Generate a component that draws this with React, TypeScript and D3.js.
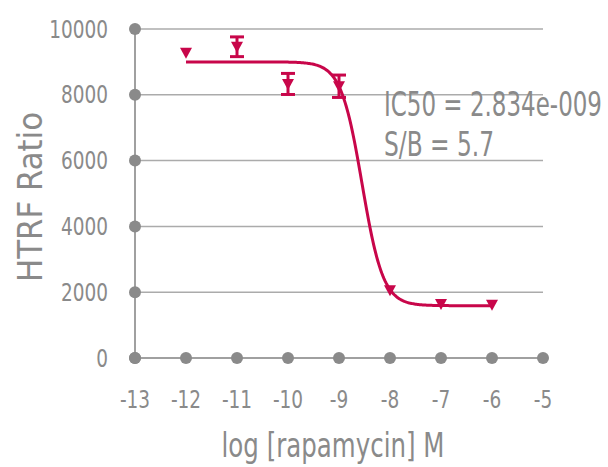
import React, { useEffect, useRef } from 'react'
import * as d3 from 'd3'

// measured points (log M), mean HTRF ratio and error
const logConc = [-12, -11, -10, -9, -8, -7, -6]
const ratio = [9280, 9460, 8330, 8260, 2060, 1640, 1620]
const ratioErr = [0, 300, 320, 340, 0, 0, 0]

// 4PL fit parameters
const fitTop = 9000
const fitBottom = 1590
const fitLogIC50 = Math.log10(2.834e-9)
const fitHill = 2.1

const xTicks = [-13, -12, -11, -10, -9, -8, -7, -6, -5]
const yTicks = [0, 2000, 4000, 6000, 8000, 10000]

const xTitle = 'log [rapamycin] M'
const yTitle = 'HTRF Ratio'
const annotations = ['IC50 = 2.834e-009', 'S/B = 5.7']

const FONT = "'DejaVu Sans', sans-serif"
const GREY = '#8a8a8a'
const RED = '#c8064a'
const SQUEEZE = 0.77 // the original uses a condensed face

function App () {
  const ref = useRef<SVGSVGElement>(null)

  useEffect(() => {
    const width = 608
    const height = 467
    const margin = { top: 29, right: 65, bottom: 109, left: 135 }
    const w = width - margin.left - margin.right
    const h = height - margin.top - margin.bottom

    const root = d3.select(ref.current)
    root.selectAll('*').remove()
    const svg = root.append('g')
      .attr('transform', 'translate(' + margin.left + ',' + margin.top + ')')

    const x = d3.scaleLinear().domain([-13, -5]).range([0, w])
    const y = d3.scaleLinear().domain([0, 10000]).range([h, 0])

    // gridlines
    svg.append('g')
      .selectAll('line')
      .data(yTicks.filter(d => d > 0))
      .enter()
      .append('line')
      .attr('x1', 0)
      .attr('x2', w)
      .attr('y1', d => y(d))
      .attr('y2', d => y(d))
      .attr('stroke', '#ababab')
      .attr('stroke-width', 1.5)

    // axis lines
    svg.append('line')
      .attr('x1', 0).attr('x2', 0)
      .attr('y1', 0).attr('y2', h)
      .attr('stroke', '#a0a0a0').attr('stroke-width', 2)
    svg.append('line')
      .attr('x1', 0).attr('x2', w)
      .attr('y1', h).attr('y2', h)
      .attr('stroke', '#a0a0a0').attr('stroke-width', 2)

    // tick dots
    svg.append('g')
      .selectAll('circle')
      .data(yTicks)
      .enter()
      .append('circle')
      .attr('cx', 0)
      .attr('cy', d => y(d))
      .attr('r', 6)
      .attr('fill', GREY)
    svg.append('g')
      .selectAll('circle')
      .data(xTicks)
      .enter()
      .append('circle')
      .attr('cx', d => x(d))
      .attr('cy', h)
      .attr('r', 6)
      .attr('fill', GREY)

    // tick labels
    svg.append('g')
      .selectAll('text')
      .data(yTicks)
      .enter()
      .append('text')
      .attr('transform', d => 'translate(-27,' + y(d) + ') scale(' + SQUEEZE + ',1)')
      .attr('dy', '0.36em')
      .attr('text-anchor', 'end')
      .attr('font-family', FONT)
      .attr('font-size', 24)
      .attr('fill', GREY)
      .text(d => String(d))
    svg.append('g')
      .selectAll('text')
      .data(xTicks)
      .enter()
      .append('text')
      .attr('transform', d => 'translate(' + x(d) + ',' + (h + 50) + ') scale(' + SQUEEZE + ',1)')
      .attr('text-anchor', 'middle')
      .attr('font-family', FONT)
      .attr('font-size', 24)
      .attr('fill', GREY)
      .text(d => String(d))

    // axis titles
    svg.append('text')
      .attr('x', 333 - margin.left)
      .attr('y', h + 99)
      .attr('text-anchor', 'middle')
      .attr('font-family', FONT)
      .attr('font-size', 33)
      .attr('textLength', 223)
      .attr('lengthAdjust', 'spacingAndGlyphs')
      .attr('fill', GREY)
      .text(xTitle)
    svg.append('g')
      .attr('transform', 'translate(' + (42 - margin.left) + ',' + (197 - margin.top) + ')')
      .append('text')
      .attr('text-anchor', 'middle')
      .attr('transform', 'rotate(-90)')
      .attr('font-family', FONT)
      .attr('font-size', 34)
      .attr('textLength', 170)
      .attr('lengthAdjust', 'spacingAndGlyphs')
      .attr('fill', GREY)
      .text(yTitle)

    // fitted curve
    const fit = (lx: number) => fitBottom + (fitTop - fitBottom) / (1 + Math.pow(10, (lx - fitLogIC50) * fitHill))
    const xs = d3.range(logConc[0], logConc[logConc.length - 1] + 0.001, 0.02)
    const line = d3.line<number>()
      .x(d => x(d))
      .y(d => y(fit(d)))
    svg.append('path')
      .datum(xs)
      .attr('fill', 'none')
      .attr('stroke', RED)
      .attr('stroke-width', 3)
      .attr('d', line)

    const pts = logConc.map((c, i) => ({ c, v: ratio[i], e: ratioErr[i] }))

    // error bars
    const eb = svg.append('g').attr('stroke', RED).attr('stroke-width', 3)
    pts.filter(p => p.e > 0).forEach(p => {
      eb.append('line')
        .attr('x1', x(p.c)).attr('x2', x(p.c))
        .attr('y1', y(p.v + p.e)).attr('y2', y(p.v - p.e))
      eb.append('line')
        .attr('x1', x(p.c) - 7).attr('x2', x(p.c) + 7)
        .attr('y1', y(p.v + p.e)).attr('y2', y(p.v + p.e))
      eb.append('line')
        .attr('x1', x(p.c) - 7).attr('x2', x(p.c) + 7)
        .attr('y1', y(p.v - p.e)).attr('y2', y(p.v - p.e))
    })

    // markers
    svg.append('g')
      .selectAll('path')
      .data(pts)
      .enter()
      .append('path')
      .attr('transform', d => 'translate(' + x(d.c) + ',' + y(d.v) + ')')
      .attr('d', 'M-6,-5L6,-5L0,6Z')
      .attr('fill', RED)

    // fit summary
    const annLen = [218, 110]
    const annBase = [116, 156]
    svg.append('g')
      .selectAll('text')
      .data(annotations)
      .enter()
      .append('text')
      .attr('x', 384 - margin.left)
      .attr('y', (d, i) => annBase[i] - margin.top)
      .attr('font-family', FONT)
      .attr('font-size', 34)
      .attr('textLength', (d, i) => annLen[i])
      .attr('lengthAdjust', 'spacingAndGlyphs')
      .attr('fill', GREY)
      .text(d => d)
  }, [])

  return (
    <svg ref={ref} width={608} height={467} style={{ position: 'absolute', left: 0, top: 0 }} />
  )
}

export default App
